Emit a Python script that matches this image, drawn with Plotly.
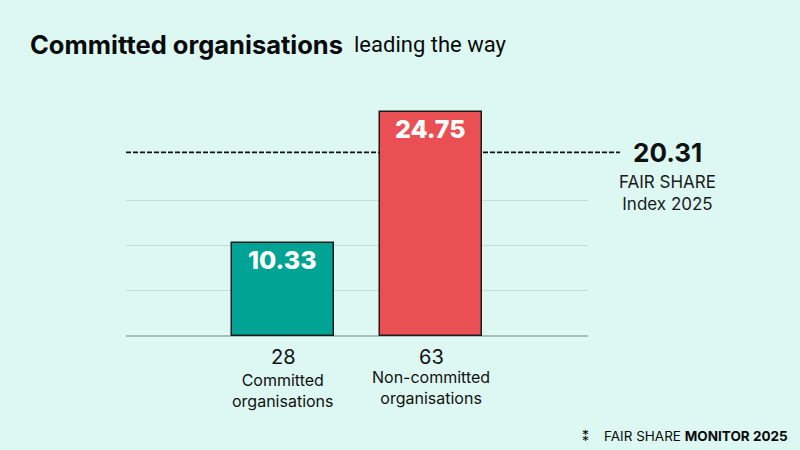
import plotly.graph_objects as go

# data
groups = ["Committed organisations", "Non-committed organisations"]
group_lines = [["Committed", "organisations"], ["Non-committed", "organisations"]]
org_counts = [28, 63]
scores = [10.33, 24.75]
fair_share = 20.31
bar_colors = ["#00a394", "#ea5053"]

BG = "#ddf8f2"
GRID = "#c3ddd6"

x_pos = list(range(len(groups)))

fig = go.Figure()
fig.add_trace(go.Bar(
    x=x_pos, y=scores, width=0.69,
    marker=dict(color=bar_colors, line=dict(color="#1c1c1c", width=1.5)),
    text=[f"{v:.2f}" for v in scores],
    textposition="inside", insidetextanchor="end",
    textfont=dict(family="Inter", size=25, color="white", weight=800),
    cliponaxis=False, hoverinfo="skip",
))

# fair share reference line
fig.add_shape(type="line", xref="paper", yref="y", x0=0, x1=1.069,
              y0=fair_share, y1=fair_share, layer="below",
              line=dict(color="#111111", width=1.8, dash="5px,2px"))

ann = []
ann.append(dict(text=f"<b>{fair_share:.2f}</b>", xref="paper", yref="y", x=1.172, y=fair_share,
                showarrow=False, xanchor="center", yanchor="middle",
                font=dict(family="Inter", size=26, color="#111111", weight=800)))
ann.append(dict(text="FAIR SHARE<br>Index 2025", xref="paper", yref="y", x=1.172, y=fair_share - 2.0,
                showarrow=False, xanchor="center", yanchor="top", align="center",
                font=dict(family="Inter", size=17, color="#1a1a1a")))

for i, (cnt, lines) in enumerate(zip(org_counts, group_lines)):
    ann.append(dict(text=str(cnt), xref="x", yref="paper", x=x_pos[i], y=-0.03,
                    showarrow=False, xanchor="center", yanchor="top",
                    font=dict(family="Inter", size=20, color="#111111")))
    ann.append(dict(text="<br>".join(lines), xref="x", yref="paper", x=x_pos[i], y=-0.14 + 0.012 * i,
                    showarrow=False, xanchor="center", yanchor="top", align="center",
                    font=dict(family="Inter", size=16, color="#111111")))

# title
ann.append(dict(text="<b>Committed organisations</b>", xref="paper", yref="paper",
                x=-0.212, y=1.285, xanchor="left", yanchor="middle", showarrow=False,
                font=dict(family="Inter", size=25.5, color="#0a0a0a", weight=900)))
ann.append(dict(text="leading the way", xref="paper", yref="paper",
                x=0.489, y=1.285, xanchor="left", yanchor="middle", showarrow=False,
                font=dict(family="Liberation Sans Narrow, Roboto", size=22, color="#0a0a0a")))

# footer
ann.append(dict(text="FAIR SHARE <b>MONITOR 2025</b>", xref="paper", yref="paper",
                x=1.437, y=-0.44, xanchor="right", yanchor="middle", showarrow=False,
                font=dict(family="Inter", size=13.5, color="#0a0a0a")))
ann.append(dict(text="<b>⁑</b>", xref="paper", yref="paper",
                x=0.995, y=-0.44, xanchor="center", yanchor="middle", showarrow=False,
                font=dict(family="DejaVu Sans", size=14, color="#0a0a0a")))

fig.update_layout(
    width=800, height=450, autosize=False,
    paper_bgcolor=BG, plot_bgcolor=BG,
    margin=dict(l=126, r=212, t=109, b=114),
    showlegend=False, bargap=0,
    annotations=ann,
    xaxis=dict(range=[-1.065, 2.063], showticklabels=False, showgrid=False,
               zeroline=False, fixedrange=True),
    yaxis=dict(range=[0, 25.1], tickvals=[0, 5, 10, 15, 25], showticklabels=False,
               gridcolor=GRID, gridwidth=1.2, zeroline=True, zerolinecolor="#a7bfb8",
               zerolinewidth=1.5, fixedrange=True),
)

fig.write_html("out.html", config={"displayModeBar": False},
               post_script="document.body.style.margin='0';")
